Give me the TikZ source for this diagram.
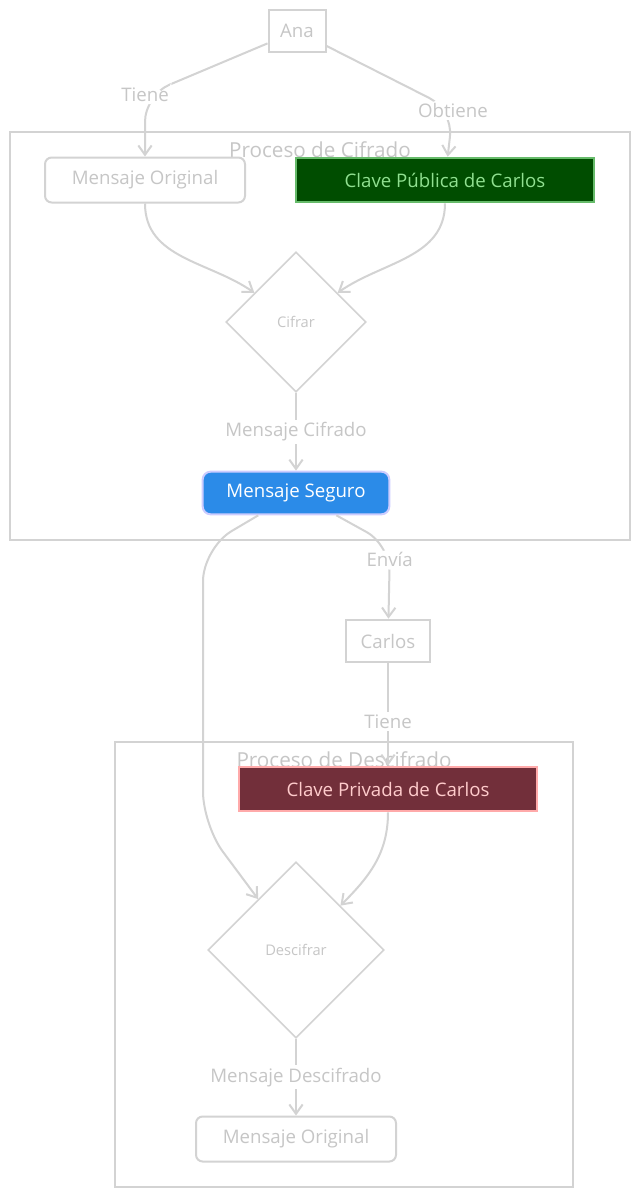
\documentclass[tikz,border=0pt]{standalone}
\usepackage{fontspec}
\setmainfont{Open Sans}
\usetikzlibrary{
    arrows.meta,
    positioning,
    fit,
    backgrounds,
    shapes.geometric
}
\definecolor{linegray}{HTML}{D3D3D3}
\definecolor{textgray}{HTML}{C6C6C6}
\definecolor{pubfill}{HTML}{004D00}
\definecolor{pubdraw}{HTML}{66BB6A}
\definecolor{pubtext}{HTML}{90E090}
\definecolor{segfill}{HTML}{2B8BE8}
\definecolor{segdraw}{HTML}{CCCCFF}
\definecolor{privfill}{HTML}{722F3A}
\definecolor{privdraw}{HTML}{FFAAAA}
\definecolor{privtext}{HTML}{FFCCCC}

\begin{document}
\begin{tikzpicture}[x=0.75pt, y=0.75pt,
    font=\fontsize{14}{16}\selectfont,
    actor/.style={
        rectangle,
        draw=linegray,
        line width=1.5pt,
        text=textgray,
        minimum height=32pt,
        inner sep=0pt
    },
    box/.style={
        rectangle,
        rounded corners=5pt,
        draw=linegray,
        line width=1.5pt,
        text=textgray,
        minimum width=150pt,
        minimum height=33.75pt
    },
    keybox/.style={
        rectangle,
        line width=1.5pt,
        minimum width=224pt,
        minimum height=33.5pt
    },
    decision/.style={
        diamond,
        draw=linegray,
        line width=1.2pt,
        text=textgray,
        aspect=1,
        inner sep=0pt,
        font=\fontsize{11}{13}\selectfont
    },
    cluster/.style={rectangle, draw=linegray, line width=1.2pt, inner sep=0pt},
    cltitle/.style={text=textgray, font=\fontsize{15.5}{18}\selectfont},
    annot/.style={text=textgray, fill=white, inner sep=2pt},
    arrow/.style={-{Straight Barb[length=7pt,width=10pt]}, draw=linegray, line width=1.5pt}
]
\useasboundingbox (0,0) rectangle (639,-1196);

% ===== Cifrado =====
\node[actor, minimum width=42.75pt] (ana) at (297,-31) {Ana};
\node[box] (orig) at (145,-180) {Mensaje Original};
\node[keybox, fill=pubfill, draw=pubdraw, text=pubtext] (pub) at (445,-180) {Clave Pública de Carlos};
\node[decision, minimum width=105pt, minimum height=105pt] (cifrar) at (296,-322) {Cifrar};
\node[box, rounded corners=6pt, fill=segfill, draw=segdraw, text=white,
      minimum width=140pt, minimum height=32pt] (seguro) at (296,-493) {Mensaje Seguro};

\draw[arrow, rounded corners=20pt] (ana) -- (145,-95) node[annot]{Tiene} -- (orig);
\draw[arrow, rounded corners=20pt] (ana) -- (453,-110) node[annot]{Obtiene} -- (pub);
\draw[arrow] (orig.south) to[out=-90, in=145] (cifrar);
\draw[arrow] (pub.south) to[out=-90, in=35] (cifrar);
\draw[arrow] (cifrar) -- node[annot]{Mensaje Cifrado} (seguro);

% ===== Descifrado =====
\node[actor, minimum width=63pt] (carlos) at (388,-641) {Carlos};
\node[keybox, fill=privfill, draw=privdraw, text=privtext] (priv) at (388,-789) {Clave Privada de Carlos};
\node[decision, minimum width=132pt, minimum height=132pt] (descifrar) at (296,-950) {Descifrar};
\node[box] (final) at (296,-1139) {Mensaje Original};

\draw[arrow, rounded corners=20pt] (seguro) -- (390,-545) -- node[annot, pos=0.2]{Envía} (carlos);
\draw[arrow] (carlos) -- node[annot, pos=0.57]{Tiene} (priv);
\draw[arrow, rounded corners=25pt] (seguro) -- (203,-548) -- (203,-825) -- (descifrar);
\draw[arrow] (priv.south) to[out=-90, in=45] (descifrar);
\draw[arrow] (descifrar) -- node[annot]{Mensaje Descifrado} (final);

% clusters
\begin{scope}[on background layer]
\fill[white] (0,0) rectangle (639,-1196);
\node[cluster, fit={(10,-132) (630,-540)},
      label={[cltitle, below=4pt]north:Proceso de Cifrado}] (cif) {};
\node[cluster, fit={(115,-742) (573,-1187)},
      label={[cltitle, below=4pt]north:Proceso de Descifrado}] (desc) {};
\end{scope}

\end{tikzpicture}
\end{document}
